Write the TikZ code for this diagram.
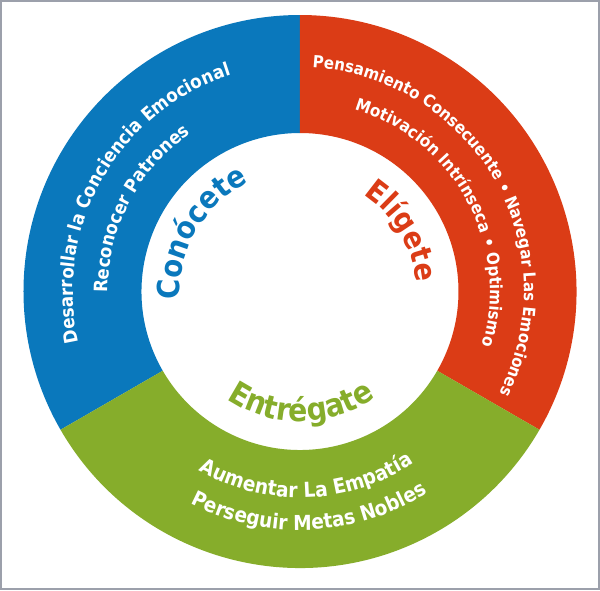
\documentclass[tikz,border=0pt]{standalone}
\usepackage{fontspec}
\usetikzlibrary{decorations.text}
\newfontfamily\wf{DejaVu Sans Condensed}
\definecolor{cblue}{HTML}{0A78BC}
\definecolor{cred}{HTML}{DB3C16}
\definecolor{cgreen}{HTML}{86AD2B}
\definecolor{cframe}{HTML}{9CA0AB}
\newcommand\fwhite[1]{\wf\bfseries\fontsize{#1pt}{#1pt}\selectfont\color{white}}
\newcommand\fcol[2]{\wf\bfseries\fontsize{#1pt}{#1pt}\selectfont\color{#2}}
\tikzset{
  arctext/.style={decorate, decoration={text along path, text align=center, text={#1}}}
}
\begin{document}
\begin{tikzpicture}[x=1pt,y=1pt]
\useasboundingbox (-300,-298.5) rectangle (300,291.5);
\fill[white] (-300,-298.5) rectangle (300,291.5);
\draw[cframe, line width=2.2pt] (-298.9,-297.4) rectangle (298.9,290.4);
% sectors
\fill[cblue] (90:276.5pt) arc[start angle=90, end angle=210, radius=276.5pt]
  -- (210:158.5pt) arc[start angle=210, end angle=90, radius=158.5pt] -- cycle;
\fill[cred] (-30:276.5pt) arc[start angle=-30, end angle=90, radius=276.5pt]
  -- (90:158.5pt) arc[start angle=90, end angle=-30, radius=158.5pt] -- cycle;
\fill[cgreen] (210:276.5pt) arc[start angle=210, end angle=330, radius=276.5pt]
  -- (330:158.5pt) arc[start angle=330, end angle=210, radius=158.5pt] -- cycle;
% blue texts
\path[arctext={|\fwhite{18.6}|Desarrollar la Conciencia Emocional}]
  (220.3:227pt) arc[start angle=220.3, end angle=80.3, radius=227pt];
\path[arctext={|\fwhite{18.4}|Reconocer Patrones}]
  (222.5:192pt) arc[start angle=222.5, end angle=82.5, radius=192pt];
\path[arctext={|\fcol{30.5}{cblue}|Conócete}]
  (229.6:120pt) arc[start angle=229.6, end angle=69.6, radius=120pt];
% red texts
\path[arctext={|\fwhite{16.7}|Pensamiento Consecuente • Navegar Las Emociones}]
  (109.9:224pt) arc[start angle=109.9, end angle=-50.1, radius=224pt];
\path[arctext={|\fwhite{16.9}|Motivación Intrínseca • Optimismo}]
  (98.5:190pt) arc[start angle=98.5, end angle=-41.5, radius=190pt];
\path[arctext={|\fcol{30}{cred}|Elígete}]
  (110.7:116pt) arc[start angle=110.7, end angle=-49.3, radius=116pt];
% green texts
\path[arctext={|\fwhite{20.7}|Aumentar La Empatía}]
  (202:206pt) arc[start angle=202, end angle=342, radius=206pt];
\path[arctext={|\fwhite{20.6}|Perseguir Metas Nobles}]
  (202.5:238.5pt) arc[start angle=202.5, end angle=342.5, radius=238.5pt];
\path[arctext={|\fcol{31.5}{cgreen}|Entrégate}]
  (190.5:130pt) arc[start angle=190.5, end angle=350.5, radius=130pt];
\end{tikzpicture}
\end{document}
